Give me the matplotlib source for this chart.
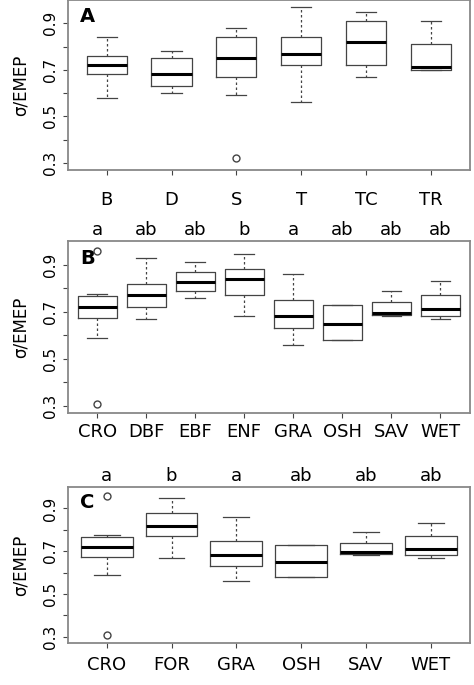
import matplotlib
matplotlib.use("Agg")
import matplotlib.pyplot as plt

cats_a = ["B", "D", "S", "T", "TC", "TR"]
stats_a = [[.58, .68, .72, .76, .84], [.60, .63, .68, .75, .78], [.59, .67, .75, .84, .88],
           [.56, .72, .77, .84, .97], [.67, .72, .82, .91, .95], [.70, .70, .71, .81, .91]]
fliers_a = [[], [], [.32], [], [], []]

cats_b = ["CRO", "DBF", "EBF", "ENF", "GRA", "OSH", "SAV", "WET"]
stats_b = [[.59, .675, .72, .765, .775], [.67, .72, .77, .82, .93], [.76, .79, .825, .87, .91],
           [.68, .77, .84, .88, .945], [.56, .63, .68, .75, .86], [.58, .58, .65, .73, .73],
           [.68, .685, .695, .74, .79], [.67, .68, .71, .77, .83]]
fliers_b = [[.31, .96], [], [], [], [], [], [], []]
letters_b = ["a", "ab", "ab", "b", "a", "ab", "ab", "ab"]

cats_c = ["CRO", "FOR", "GRA", "OSH", "SAV", "WET"]
stats_c = [stats_b[0], [.67, .77, .82, .88, .95], stats_b[4], stats_b[5], stats_b[6], stats_b[7]]
fliers_c = [[.31, .96], [], [], [], [], []]
letters_c = ["a", "b", "a", "ab", "ab", "ab"]

fig = plt.figure(figsize=(4.74, 6.85), dpi=100)
left, width = 0.143, 0.848
specs = [(0.752, 0.248, cats_a, stats_a, fliers_a, None, "A", 0.62, 12),
         (0.397, 0.251, cats_b, stats_b, fliers_b, letters_b, "B", 0.8, 4),
         (0.061, 0.228, cats_c, stats_c, fliers_c, letters_c, "C", 0.8, 6)]
for bottom, h, cats, stats, fliers, letters, tag, w, pad in specs:
    ax = fig.add_axes([left, bottom, width, h])
    bx = []
    for c, s, f in zip(cats, stats, fliers):
        bx.append(dict(label=c, whislo=s[0], q1=s[1], med=s[2], q3=s[3], whishi=s[4], fliers=f))
    ax.bxp(bx, widths=w, showfliers=True,
           boxprops=dict(color="#444444", lw=0.9),
           medianprops=dict(color="black", lw=2.2),
           whiskerprops=dict(color="#444444", lw=0.9, linestyle=(0, (2, 2))),
           capprops=dict(color="#444444", lw=0.9),
           flierprops=dict(marker="o", markerfacecolor="none", markeredgecolor="#444444", markersize=5))
    ax.set_ylim(0.27, 1.0)
    ax.set_xlim(0.4, len(cats) + 0.6)
    ax.set_yticks([0.3, 0.4, 0.5, 0.6, 0.7, 0.8, 0.9])
    ax.set_yticklabels(["0.3", "", "0.5", "", "0.7", "", "0.9"], rotation=90, va="center")
    ax.tick_params(labelsize=11, color="#444444")
    ax.tick_params(axis="x", labelsize=13, pad=pad)
    for sp in ax.spines.values():
        sp.set_color("#888888")
        sp.set_linewidth(1.3)
    ax.set_ylabel("σ/EMEP", fontsize=12, labelpad=10)
    ax.text(0.03, 0.9, tag, transform=ax.transAxes, fontsize=14, fontweight="bold", va="center")
    if letters:
        for i, l in enumerate(letters):
            ax.text(i + 1, 1.01, l, transform=ax.get_xaxis_transform(), ha="center", va="bottom", fontsize=13)
fig.savefig("out.png", dpi=100)
